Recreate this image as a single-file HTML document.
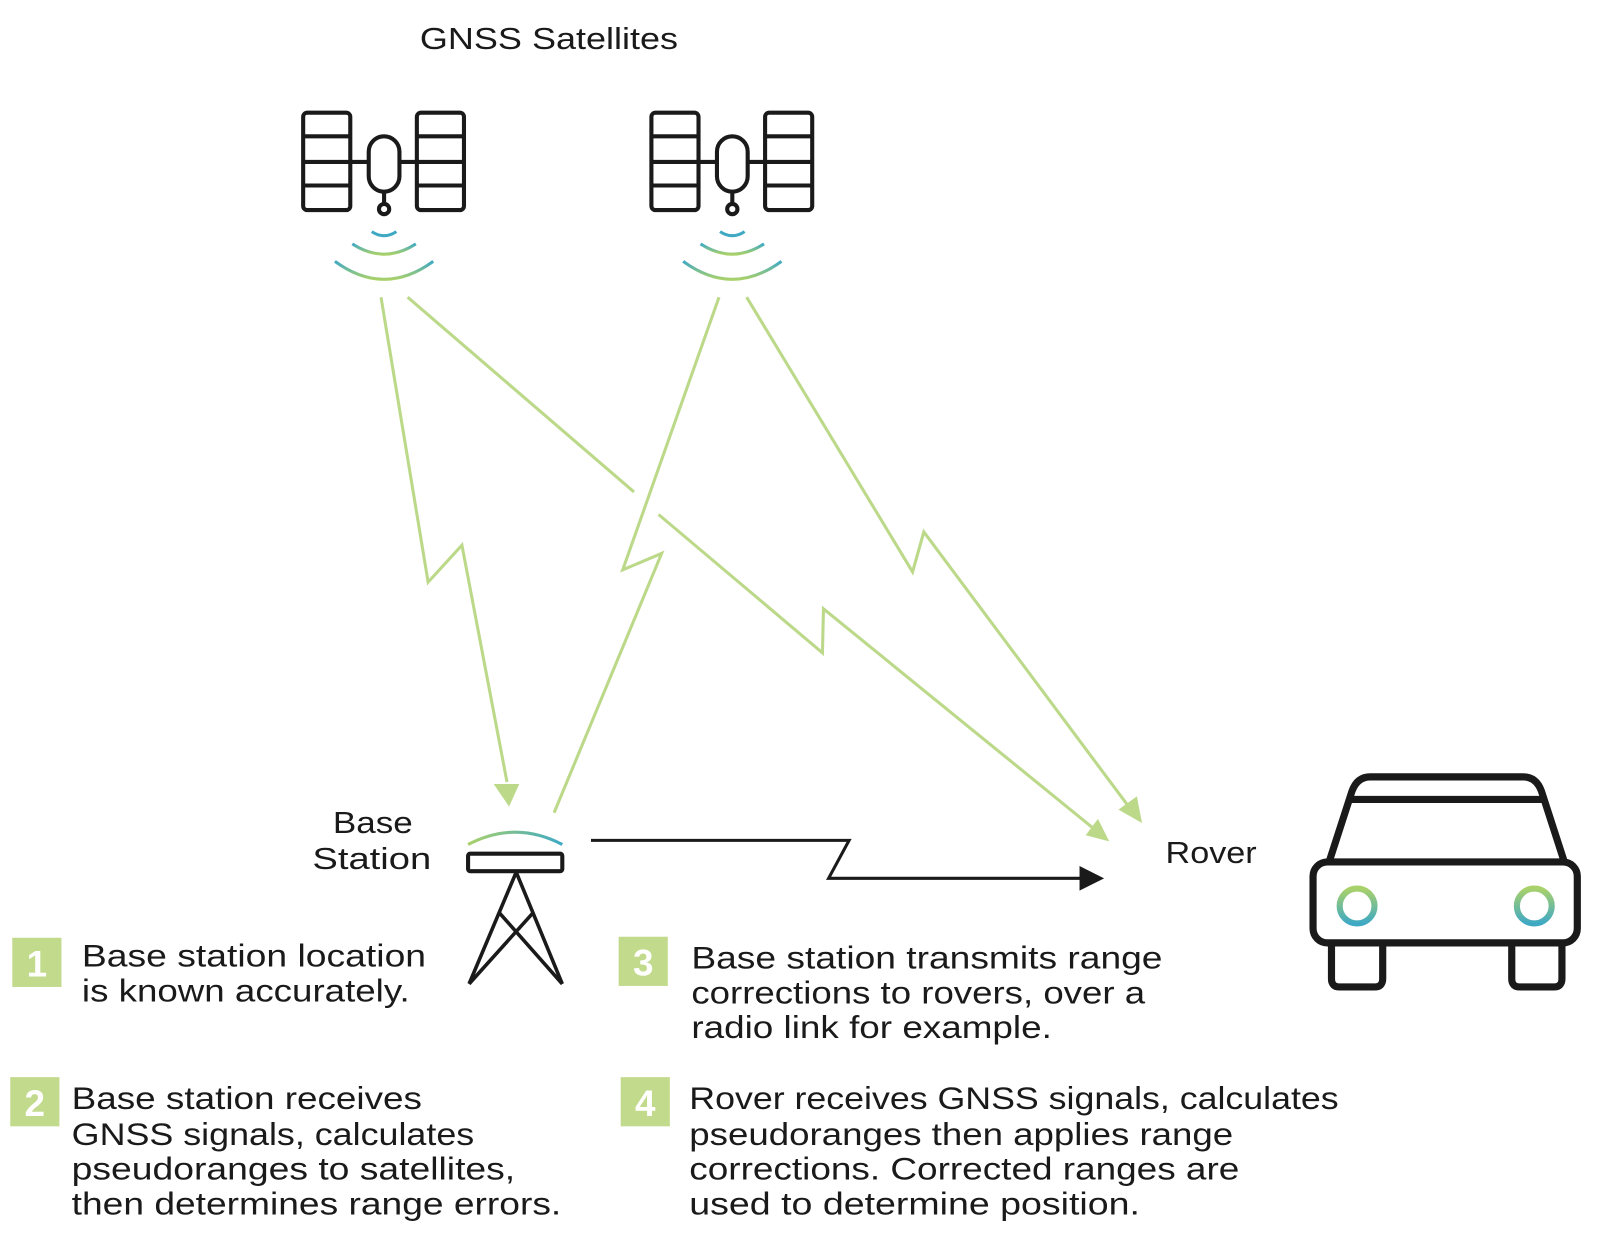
<!DOCTYPE html>
<html><head><meta charset="utf-8"><style>
html,body{margin:0;padding:0;background:#fff;}
svg{display:block}
text{font-family:"Liberation Sans",sans-serif;fill:#1a1a1a;}
</style></head><body>
<svg width="1607" height="1236" viewBox="0 0 1569 1206" preserveAspectRatio="none" xmlns="http://www.w3.org/2000/svg">
<defs>
<linearGradient id="arc" x1="0" y1="0" x2="0" y2="1"><stop offset="0" stop-color="#3fa9c4"/><stop offset="1" stop-color="#a9d16a"/></linearGradient>
<linearGradient id="dome" x1="0" y1="0" x2="1" y2="0"><stop offset="0" stop-color="#a9d16a"/><stop offset="1" stop-color="#3fa9c4"/></linearGradient>
<linearGradient id="lamp" x1="0" y1="0" x2="0" y2="1"><stop offset="0" stop-color="#a9d16a"/><stop offset="1" stop-color="#3fa9c4"/></linearGradient>
<g id="sat" fill="none" stroke="#1a1a1a" stroke-width="4">
<rect x="296" y="110" width="46" height="95" rx="4"/>
<line x1="296" y1="133" x2="342" y2="133"/><line x1="296" y1="158" x2="342" y2="158"/><line x1="296" y1="181" x2="342" y2="181"/>
<rect x="407" y="110" width="46" height="95" rx="4"/>
<line x1="407" y1="133" x2="453" y2="133"/><line x1="407" y1="158" x2="453" y2="158"/><line x1="407" y1="181" x2="453" y2="181"/>
<line x1="342" y1="158" x2="360" y2="158"/><line x1="390" y1="158" x2="407" y2="158"/>
<rect x="360" y="133" width="30" height="54" rx="15"/>
<line x1="375" y1="187" x2="375" y2="199"/><circle cx="375" cy="204" r="5"/>
<path d="M363 226 Q375 234 387 226" stroke="#3fa9c4" stroke-width="3"/>
<path d="M344 238 Q375 258 406 238" stroke="url(#arc)" stroke-width="3"/>
<path d="M327 255 Q375 290 423 255" stroke="url(#arc)" stroke-width="3"/>
</g>
</defs>
<text x="410" y="48" font-size="30" textLength="252" lengthAdjust="spacingAndGlyphs">GNSS Satellites</text>
<use href="#sat"/>
<use href="#sat" transform="translate(340,0)"/>
<g fill="none" stroke="#bcd98a" stroke-width="3">
<polyline points="372,290 418,568 451,532 495,763"/>
<polygon points="482,765 507,765 497,787" fill="#bcd98a" stroke="none"/>
<polyline points="398,290 619,480"/>
<polyline points="643,502 803,637 804,594 1066,807"/>
<polygon points="1060,815 1072,799 1083,821" fill="#bcd98a" stroke="none"/>
<polyline points="702,290 608,556 646,540 541,793"/>
<polyline points="729,290 891,558 902,519 1102,787"/>
<polygon points="1092,790 1110,777 1115,803" fill="#bcd98a" stroke="none"/>
</g>
<g fill="none" stroke="#1a1a1a" stroke-width="3">
<polyline points="577,820 829,820 809,857 1058,857"/>
</g>
<polygon points="1054,845 1078,857 1054,869" fill="#1a1a1a"/>
<path d="M457 824 Q503 800 549 824" fill="none" stroke="url(#dome)" stroke-width="3"/>
<rect x="457" y="833" width="92" height="17" rx="2" fill="none" stroke="#1a1a1a" stroke-width="4"/>
<g stroke="#1a1a1a" stroke-width="3.5" fill="none">
<line x1="504" y1="851" x2="458" y2="960"/><line x1="504" y1="851" x2="549" y2="960"/>
<line x1="487" y1="890" x2="549" y2="960"/><line x1="521" y1="890" x2="458" y2="960"/>
</g>
<text x="325" y="813" font-size="30" textLength="78" lengthAdjust="spacingAndGlyphs">Base</text>
<text x="305" y="848" font-size="30" textLength="116" lengthAdjust="spacingAndGlyphs">Station</text>
<text x="1138" y="842" font-size="30" textLength="89" lengthAdjust="spacingAndGlyphs">Rover</text>
<g fill="none" stroke="#1a1a1a" stroke-width="7" stroke-linejoin="round">
<path d="M1298 840 L1320 772 Q1325 758 1338 758 L1487 758 Q1500 758 1505 772 L1527 840"/>
<line x1="1315" y1="780" x2="1510" y2="780"/>
<rect x="1282" y="841" width="258" height="79" rx="14"/>
<path d="M1300 920 L1300 955 Q1300 963 1308 963 L1342 963 Q1350 963 1350 955 L1350 920"/>
<path d="M1476 920 L1476 955 Q1476 963 1484 963 L1517 963 Q1525 963 1525 955 L1525 920"/>
</g>
<circle cx="1325" cy="884" r="17" fill="none" stroke="url(#lamp)" stroke-width="6"/>
<circle cx="1498" cy="884" r="17" fill="none" stroke="url(#lamp)" stroke-width="6"/>
<g fill="#c2da8c">
<rect x="12" y="915" width="48" height="48"/>
<rect x="10" y="1051" width="48" height="48"/>
<rect x="604" y="914" width="48" height="48"/>
<rect x="606" y="1051" width="48" height="48"/>
</g>
<g font-size="36" font-weight="bold" text-anchor="middle">
<text x="36" y="953" style="fill:#fff">1</text>
<text x="34" y="1089" style="fill:#fff">2</text>
<text x="628" y="952" style="fill:#fff">3</text>
<text x="630" y="1089" style="fill:#fff">4</text>
</g>
<g font-size="31">
<text x="80" y="943" textLength="336" lengthAdjust="spacingAndGlyphs">Base station location</text>
<text x="80" y="977" textLength="320" lengthAdjust="spacingAndGlyphs">is known accurately.</text>
<text x="70" y="1082" textLength="342" lengthAdjust="spacingAndGlyphs">Base station receives</text>
<text x="70" y="1117" textLength="393" lengthAdjust="spacingAndGlyphs">GNSS signals, calculates</text>
<text x="70" y="1151" textLength="433" lengthAdjust="spacingAndGlyphs">pseudoranges to satellites,</text>
<text x="70" y="1185" textLength="478" lengthAdjust="spacingAndGlyphs">then determines range errors.</text>
<text x="675" y="945" textLength="460" lengthAdjust="spacingAndGlyphs">Base station transmits range</text>
<text x="675" y="979" textLength="443" lengthAdjust="spacingAndGlyphs">corrections to rovers, over a</text>
<text x="675" y="1013" textLength="352" lengthAdjust="spacingAndGlyphs">radio link for example.</text>
<text x="673" y="1082" textLength="634" lengthAdjust="spacingAndGlyphs">Rover receives GNSS signals, calculates</text>
<text x="673" y="1117" textLength="531" lengthAdjust="spacingAndGlyphs">pseudoranges then applies range</text>
<text x="673" y="1151" textLength="537" lengthAdjust="spacingAndGlyphs">corrections. Corrected ranges are</text>
<text x="673" y="1185" textLength="440" lengthAdjust="spacingAndGlyphs">used to determine position.</text>
</g>
</svg>
</body></html>
